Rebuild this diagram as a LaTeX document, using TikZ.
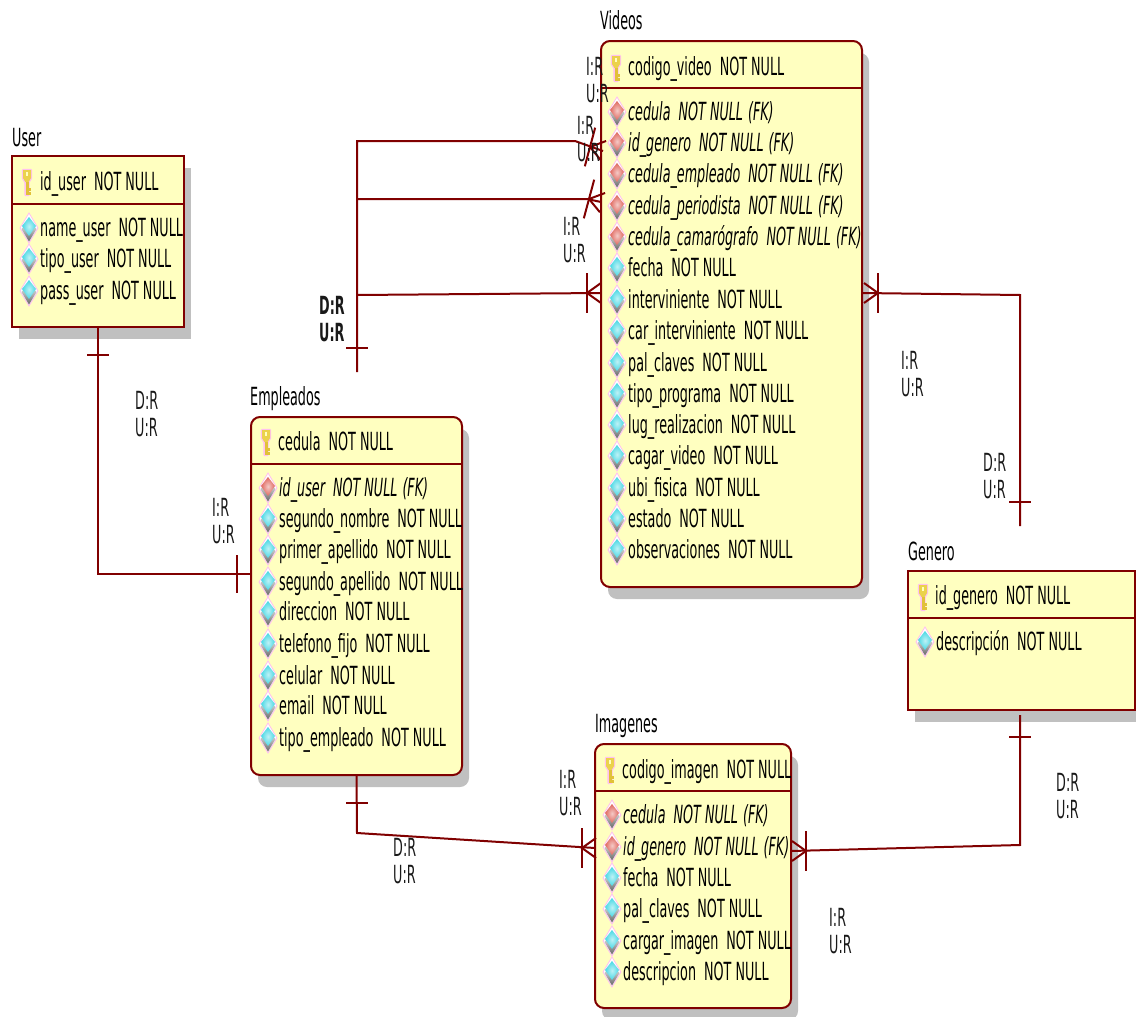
\documentclass[tikz,border=0pt]{standalone}
\usepackage{fontspec}
\setmainfont[FakeStretch=0.51]{DejaVu Sans}
\usetikzlibrary{shadows}
\definecolor{relred}{HTML}{800000}
\definecolor{tblfill}{HTML}{FFFFC0}
\definecolor{shadowgray}{HTML}{C0C0C0}
\definecolor{fkred}{HTML}{E0675E}
\definecolor{colblue}{HTML}{48D8E4}
\definecolor{halopink}{HTML}{FFC0F0}
\newcommand{\nn}{\hspace{8pt}NOT NULL}
\newcommand{\fk}[1]{\textit{#1\nn\hspace{5pt}(FK)}}
\tikzset{
	rel/.style={draw=relred,line width=2pt},
	tblsq/.style={draw=relred,line width=2pt,fill=tblfill,anchor=north west,inner sep=0pt,outer sep=0pt,
		general shadow={shadow xshift=7pt,shadow yshift=-12pt,fill=shadowgray}},
	tblrnd/.style={tblsq,rounded corners=9pt},
	rowtxt/.style={anchor=west,inner sep=0pt,text height=18pt,text depth=0pt,font=\fontsize{25}{27}\selectfont,text=black},
	lbl/.style={anchor=west,inner sep=0pt,align=left,font=\fontsize{25}{27}\selectfont,text=black!90},
	pics/crowfoot/.style={code={
		\draw[rel] (0,-20) -- (0,20);
		\draw[rel] (14,-10) -- (0,0) -- (14,10);
	}},
	pics/onetick/.style={code={
		\draw[rel] (-11,0) -- (11,0);
	}},
	pics/attr/.style={code={
		\fill[white] (0,-15) -- (9,0) -- (0,15) -- (-9,0) -- cycle;
		\draw[halopink,line width=0.8pt] (0,-15) -- (9,0) -- (0,15) -- (-9,0) -- cycle;
		\shade[top color=white,bottom color=black!60] (-7.5,1) -- (0,-8) -- (7.5,1) -- (0,13.5) -- cycle;
		\shade[inner color=#1!35!white,outer color=#1] (0,-11) -- (7,-2) -- (0,8) -- (-7,-2) -- cycle;
	}},
	pics/pkey/.style={code={
		\draw[halopink,line width=2.4pt,line join=round] (-4,-12) -- (4,-12) -- (4,-4) -- (1.5,0) -- (1.5,13) -- (-1.5,13) -- (-1.5,0) -- (-4,-4) -- cycle;
		\fill[yellow!60!brown!85!white] (-4,-12) -- (4,-12) -- (4,-4) -- (1.5,0) -- (-1.5,0) -- (-4,-4) -- cycle;
		\fill[tblfill] (-1.3,-10) rectangle (1.3,-6);
		\fill[yellow!50!brown] (-1.5,0) rectangle (1.5,13);
		\fill[yellow!50!brown] (1.5,6) rectangle (4,8.5);
		\fill[yellow!50!brown] (1.5,10) rectangle (3.5,12.5);
	}},
}
\begin{document}
\begin{tikzpicture}[x=1pt,y=-1pt]
	\useasboundingbox (0,0) rectangle (1136,1017);
	% Tablas
	\node[tblsq,minimum width=172pt,minimum height=171pt] (user) at (12,156) {};
	\node[tblrnd,minimum width=211pt,minimum height=358pt] (empleados) at (251,417) {};
	\node[tblrnd,minimum width=261pt,minimum height=546pt] (videos) at (601,41) {};
	\node[tblsq,minimum width=227pt,minimum height=139pt] (genero) at (908,571) {};
	\node[tblrnd,minimum width=196pt,minimum height=264pt] (imagenes) at (595,744) {};
	\draw[rel] (user.west |- 0,204) -- (user.east |- 0,204);
	\draw[rel] (empleados.west |- 0,464) -- (empleados.east |- 0,464);
	\draw[rel] (videos.west |- 0,88) -- (videos.east |- 0,88);
	\draw[rel] (genero.west |- 0,618) -- (genero.east |- 0,618);
	\draw[rel] (imagenes.west |- 0,791) -- (imagenes.east |- 0,791);
	% Titulos
	\node[rowtxt] (tuser) at (12,137) {User};
	\node[rowtxt] (templeados) at (250,396) {Empleados};
	\node[rowtxt] (tvideos) at (600,20) {Videos};
	\node[rowtxt] (tgenero) at (908,551) {Genero};
	\node[rowtxt] (timagenes) at (595,723) {Imagenes};
	% Claves primarias
	\pic at (27,182) {pkey};
	\node[rowtxt] (userk) at (40,181) {id\_user\nn};
	\pic at (266,442) {pkey};
	\node[rowtxt] (empleadosk) at (278,441) {cedula\nn};
	\pic at (616,68) {pkey};
	\node[rowtxt] (videosk) at (628,66) {codigo\_video\nn};
	\pic at (923,597) {pkey};
	\node[rowtxt] (generok) at (935,595) {id\_genero\nn};
	\pic at (610,770) {pkey};
	\node[rowtxt] (imagenesk) at (622,769) {codigo\_imagen\nn};
	% Columnas
	\foreach \y/\c/\t [count=\i] in {
		228/colblue/name\_user\nn,
		259/colblue/tipo\_user\nn,
		291/colblue/pass\_user\nn}{
		\pic at (29,\y) {attr=\c};
		\node[rowtxt] (user\i) at (40,\y-1) {\t};
	}
	\foreach \y/\c/\t [count=\i] in {
		488/fkred/\fk{id\_user},
		519/colblue/segundo\_nombre\nn,
		550/colblue/primer\_apellido\nn,
		582/colblue/segundo\_apellido\nn,
		612/colblue/direccion\nn,
		644/colblue/telefono\_fijo\nn,
		676/colblue/celular\nn,
		706/colblue/email\nn,
		738/colblue/tipo\_empleado\nn}{
		\pic at (268,\y) {attr=\c};
		\node[rowtxt] (empleados\i) at (279,\y-1) {\t};
	}
	\foreach \y/\c/\t [count=\i] in {
		112/fkred/\fk{cedula},
		143/fkred/\fk{id\_genero},
		174/fkred/\fk{cedula\_empleado},
		206/fkred/\fk{cedula\_periodista},
		237/fkred/\fk{cedula\_camarógrafo},
		268/colblue/fecha\nn,
		300/colblue/interviniente\nn,
		331/colblue/car\_interviniente\nn,
		363/colblue/pal\_claves\nn,
		394/colblue/tipo\_programa\nn,
		425/colblue/lug\_realizacion\nn,
		456/colblue/cagar\_video\nn,
		488/colblue/ubi\_fisica\nn,
		519/colblue/estado\nn,
		550/colblue/observaciones\nn}{
		\pic at (617,\y) {attr=\c};
		\node[rowtxt] (videos\i) at (628,\y-1) {\t};
	}
	\pic at (925,642) {attr=colblue};
	\node[rowtxt] (genero1) at (936,641) {descripción\nn};
	\foreach \y/\c/\t [count=\i] in {
		815/fkred/\fk{cedula},
		847/fkred/\fk{id\_genero},
		878/colblue/fecha\nn,
		909/colblue/pal\_claves\nn,
		941/colblue/cargar\_imagen\nn,
		972/colblue/descripcion\nn}{
		\pic at (612,\y) {attr=\c};
		\node[rowtxt] (imagenes\i) at (623,\y-1) {\t};
	}
	% Relaciones
	\coordinate (empin) at (empleados.west |- 0,574);
	\draw[rel] (user.south) |- (empin);
	\pic at (user.south |- 0,355) {onetick};
	\draw[rel] (237,555) -- (237,593);

	\coordinate (trunkend) at (357,372);
	\coordinate (vida) at (603,151);
	\coordinate (vidb) at (601,202);
	\coordinate (vidc) at (videos.west |- 0,293);
	\draw[rel] (trunkend) -- (357,141) -- (575,141) -- (vida);
	\draw[rel] (357,199) -- (587,199) -- (vidb);
	\draw[rel] (357,295) -- (vidc);
	\pic at (trunkend |- 0,348) {onetick};
	\pic[rotate=-15] at (590,147) {crowfoot};
	\pic[rotate=-15] at (589,199) {crowfoot};
	\pic at (587,293) {crowfoot};

	\coordinate (genend) at (1020,526);
	\draw[rel] (videos.east |- 0,293) -- (1020,295) -- (genend);
	\pic[xscale=-1] at (878,293) {crowfoot};
	\pic at (1020,502) {onetick};

	\coordinate (genstart) at (1020,715);
	\coordinate (imgr) at (imagenes.east |- 0,851);
	\draw[rel] (genstart) -- (1020,845) -- (imgr);
	\pic at (1020,737) {onetick};
	\pic[xscale=-1] at (806,851) {crowfoot};

	\coordinate (imgl) at (imagenes.west |- 0,848);
	\draw[rel] (empleados.south) -- (357,833) -- (imgl);
	\pic at (357,803) {onetick};
	\pic at (582,848) {crowfoot};
	% Etiquetas
	\node[lbl] (la) at (135,414) {D:R\\U:R};
	\node[lbl] (lb) at (212,521) {I:R\\U:R};
	\node[lbl] (lc) at (586,80) {I:R\\U:R};
	\node[lbl] (ld) at (577,139) {I:R\\U:R};
	\node[lbl] (le) at (563,240) {I:R\\U:R};
	\node[lbl] (lf) at (319,319) {\textbf{D:R}\\\textbf{U:R}};
	\node[lbl] (lg) at (901,374) {I:R\\U:R};
	\node[lbl] (lh) at (983,476) {D:R\\U:R};
	\node[lbl] (li) at (1056,796) {D:R\\U:R};
	\node[lbl] (lj) at (829,931) {I:R\\U:R};
	\node[lbl] (lk) at (393,861) {D:R\\U:R};
	\node[lbl] (ll) at (559,793) {I:R\\U:R};
\end{tikzpicture}
\end{document}
